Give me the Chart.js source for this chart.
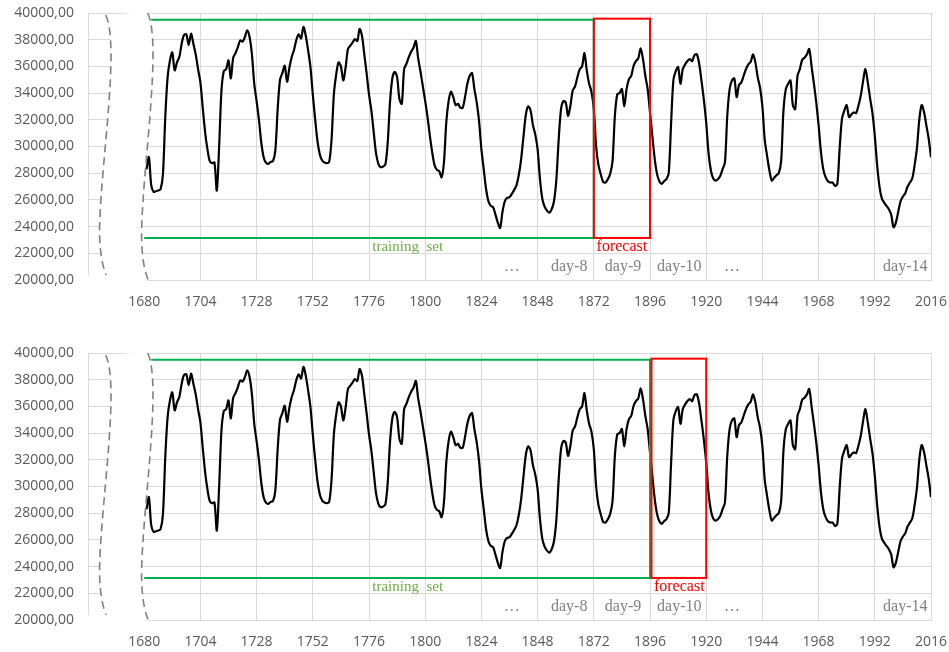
<!DOCTYPE html>
<html>
<head>
<meta charset="utf-8">
<script src="https://cdn.jsdelivr.net/npm/chart.js@4.4.1/dist/chart.umd.min.js"></script>
<style>
  html, body { margin: 0; padding: 0; background: #fff; overflow: hidden; }
  #wrap { position: relative; width: 949px; height: 652px; }
  canvas { position: absolute; left: 0; }
  #top { top: 0; }
  #bottom { top: 340px; }
</style>
</head>
<body>
<div id="wrap">
  <canvas id="top" width="949" height="312"></canvas>
  <canvas id="bottom" width="949" height="312"></canvas>
</div>
<script>
// hourly load, first point at hour 1681, one row per day
const firstHour = 1681;
const load = [
  28300, 29200, 27100, 26600, 26650, 26700, 26800, 27900, 32200, 35200, 36450, 37050, 35700, 36300, 36700, 37700, 38350, 38400, 37600, 38450, 37700, 36900, 35800, 34800,
  32900, 31100, 29800, 28900, 28750, 28800, 26700, 30000, 34200, 35650, 35800, 36450, 35100, 36650, 37000, 37450, 37950, 37850, 38200, 38700, 38200, 36900, 34700, 33400,
  32000, 30300, 29200, 28800, 28700, 28850, 28900, 29700, 32800, 35000, 35500, 36050, 34850, 35900, 36700, 37250, 38000, 38400, 38100, 38950, 38300, 37200, 35950, 33900,
  32050, 30400, 29400, 28950, 28800, 28750, 28850, 30500, 33900, 35400, 36300, 36000, 34950, 35900, 37300, 37550, 37800, 38050, 37900, 38800, 38300, 36900, 35450, 33900,
  32700, 31100, 29500, 28700, 28450, 28500, 28650, 30300, 33400, 35150, 35600, 35200, 33550, 33200, 35800, 36200, 36700, 37100, 37400, 37900, 36600, 35600, 34500, 33400,
  32200, 30800, 29550, 28600, 28250, 28150, 27700, 28800, 31800, 33400, 34100, 33700, 33100, 33200, 32900, 32900, 33700, 34700, 35300, 35500, 34300, 33300, 31900, 29800,
  28300, 26800, 25900, 25550, 25450, 24900, 24300, 23900, 25100, 25900, 26150, 26200, 26450, 26750, 27100, 27900, 29100, 30800, 32400, 33000, 32700, 31600, 30900, 29800,
  27600, 26100, 25500, 25200, 25050, 25300, 25900, 27500, 30500, 32800, 33400, 33300, 32300, 33050, 34200, 34500, 35200, 35800, 36000, 37000, 35700, 34700, 34100, 32800,
  30000, 28600, 27900, 27350, 27300, 27550, 27950, 28900, 32300, 33900, 34000, 34300, 33000, 34300, 35050, 35300, 36050, 36400, 36600, 37350, 36550, 35300, 34300, 32550,
  30800, 29100, 27950, 27400, 27200, 27400, 27550, 28000, 31700, 35000, 35650, 35950, 34700, 35800, 36150, 36400, 36550, 36400, 36850, 36900, 36200, 34900, 33500, 31800,
  29500, 28200, 27600, 27450, 27550, 27800, 28300, 28800, 32300, 34300, 34950, 35100, 33700, 34600, 34800, 35300, 35800, 36150, 36350, 36900, 36300, 35200, 34400, 33000,
  30500, 29300, 28200, 27450, 27650, 27850, 28000, 28900, 32700, 34300, 34700, 34950, 33100, 32800, 35300, 35800, 36500, 36650, 36900, 37300, 36000, 34700, 33300, 31600,
  29600, 28300, 27700, 27400, 27300, 27300, 27050, 27200, 29900, 32100, 32700, 33100, 32200, 32400, 32550, 32500, 33050, 33800, 34900, 35800, 34800, 33600, 32500, 30800,
  28600, 27000, 26100, 25800, 25550, 25300, 24900, 23950, 24300, 25100, 25900, 26250, 26500, 27000, 27300, 27600, 28600, 29900, 32000, 33100, 32600, 31600, 30600, 29200
];

const xTicks = [1656, 1680, 1704, 1728, 1752, 1776, 1800, 1824, 1848, 1872, 1896, 1920, 1944, 1968, 1992, 2016];
const yTicks = [20000, 22000, 24000, 26000, 28000, 30000, 32000, 34000, 36000, 38000, 40000];

// day captions under the boxes
const dayLabels = ["\u2026", "day-8", "day-9", "day-10", "\u2026", "day-14"];
const dayLabelX = [1837, 1861.5, 1884.5, 1908.5, 1931, 2005];

// one entry per panel
const trainEnd = [1872, 1896];
const forecastFrom = [1872, 1896];
const forecastTo = [1896, 1920];
const forecastLabelX = [1884, 1908.5];

const boxTop = 39500;
const boxBottom = 23150;
const captionY = 22500;
const dayY = 21000;

const GRID = "#d9d9d9";

// axis break: s-shaped dashed curve
function breakPath(ctx, x0, y0, y1) {
  const h = y1 - y0;
  ctx.moveTo(x0, y0);
  ctx.bezierCurveTo(x0 + 14, y0 + 30, x0 - 4, y0 + 0.55 * h, x0 - 6, y0 + 0.8 * h);
  ctx.quadraticCurveTo(x0 - 7, y0 + 0.93 * h, x0 + 0.5, y1);
}
function breakPathRev(ctx, x0, y0, y1) {
  const h = y1 - y0;
  ctx.lineTo(x0 + 0.5, y1);
  ctx.quadraticCurveTo(x0 - 7, y0 + 0.93 * h, x0 - 6, y0 + 0.8 * h);
  ctx.bezierCurveTo(x0 - 4, y0 + 0.55 * h, x0 + 14, y0 + 30, x0, y0);
}

function makeDecor(panel) {
  return {
    id: "decor" + panel,
    beforeDatasetsDraw(chart) {
      const { ctx, chartArea, scales } = chart;
      const xs = scales.x;
      const xl = xs.getPixelForValue(1680) - 38.5;
      const xr = xs.getPixelForValue(1680) + 3.5;
      // white gap between the two break curves
      ctx.save();
      ctx.fillStyle = "#fff";
      ctx.beginPath();
      breakPath(ctx, xl, chartArea.top + 2, chartArea.bottom - 5);
      breakPathRev(ctx, xr, chartArea.top - 1, chartArea.bottom + 1);
      ctx.closePath();
      ctx.fill();
      ctx.fillRect(chartArea.left - 3, chartArea.bottom - 5, xr - chartArea.left, 12);
      ctx.restore();
    },
    afterDatasetsDraw(chart) {
      const { ctx, chartArea, scales } = chart;
      const xs = scales.x, ys = scales.y;
      const xl = xs.getPixelForValue(1680) - 38.5;
      const xr = xs.getPixelForValue(1680) + 3.5;
      ctx.save();

      ctx.strokeStyle = "#808080";
      ctx.lineWidth = 1.6;
      ctx.setLineDash([8, 5]);
      ctx.beginPath();
      breakPath(ctx, xl, chartArea.top + 2, chartArea.bottom - 5);
      ctx.stroke();
      ctx.beginPath();
      breakPath(ctx, xr, chartArea.top, chartArea.bottom);
      ctx.stroke();
      ctx.setLineDash([]);

      const yT = ys.getPixelForValue(boxTop);
      const yB = ys.getPixelForValue(boxBottom);

      // training set box (open on the left)
      ctx.strokeStyle = "#00b050";
      ctx.lineWidth = 2;
      ctx.beginPath();
      ctx.moveTo(xs.getPixelForValue(1683), yT);
      ctx.lineTo(xs.getPixelForValue(trainEnd[panel]), yT);
      ctx.lineTo(xs.getPixelForValue(trainEnd[panel]), yB);
      ctx.lineTo(xs.getPixelForValue(1680), yB);
      ctx.stroke();

      // forecast box
      ctx.strokeStyle = "#ff0000";
      const fx0 = xs.getPixelForValue(forecastFrom[panel]) + (panel ? 1.5 : 0);
      const fx1 = xs.getPixelForValue(forecastTo[panel]);
      ctx.strokeRect(fx0, yT - 1, fx1 - fx0, yB - yT + 1);

      ctx.textAlign = "center";
      ctx.textBaseline = "middle";
      ctx.font = "15px 'Liberation Serif'";
      ctx.fillStyle = "#70ad47";
      ctx.fillText("training  set", xs.getPixelForValue(1792.5), ys.getPixelForValue(captionY));
      ctx.font = "16px 'Liberation Serif'";
      ctx.fillStyle = "#ff0000";
      ctx.fillText("forecast", xs.getPixelForValue(forecastLabelX[panel]), ys.getPixelForValue(captionY));

      ctx.fillStyle = "#808080";
      dayLabels.forEach((t, i) => {
        ctx.fillText(t, xs.getPixelForValue(dayLabelX[i]), ys.getPixelForValue(dayY));
      });
      ctx.restore();
    }
  };
}

function makeChart(id, panel) {
  const ctx = document.getElementById(id).getContext("2d");
  return new Chart(ctx, {
    type: "line",
    data: {
      datasets: [
        {
          data: load.map((v, i) => ({ x: firstHour + i, y: v })),
          borderColor: "#000",
          borderWidth: 2.2,
          pointRadius: 0,
          tension: 0.3,
          fill: false,
        },
      ],
    },
    options: {
      responsive: false,
      animation: false,
      devicePixelRatio: 1,
      layout: { padding: { top: 13, right: 18, left: 0, bottom: 0 } },
      plugins: { legend: { display: false }, tooltip: { enabled: false } },
      scales: {
        x: {
          type: "linear",
          min: 1656,
          max: 2016,
          afterBuildTicks: (s) => { s.ticks = xTicks.map((v) => ({ value: v })); },
          afterFit: (s) => {
            s.height = 32;
            s.paddingLeft = 0;
            s.paddingRight = 0;
          },
          ticks: {
            autoSkip: false,
            maxRotation: 0,
            padding: 14,
            color: "#595959",
            font: { family: "'Open Sans'", size: 14 },
            callback: (v) => (v === 1656 ? "" : String(v)),
          },
          grid: {
            drawTicks: false,
            color: (c) => (c.tick && c.tick.value === 1680 ? "rgba(0,0,0,0)" : GRID),
          },
          border: { color: GRID },
        },
        y: {
          min: 20000,
          max: 40000,
          afterBuildTicks: (s) => { s.ticks = yTicks.map((v) => ({ value: v })); },
          afterFit: (s) => {
            s.width = 88;
            s.paddingTop = 0;
            s.paddingBottom = 0;
          },
          ticks: {
            padding: 14,
            color: "#595959",
            font: { family: "'Open Sans'", size: 14 },
            callback: (v) => v + ",00",
          },
          grid: { drawTicks: false, color: GRID },
          border: { color: GRID },
        },
      },
    },
    plugins: [makeDecor(panel)],
  });
}

makeChart("top", 0);
makeChart("bottom", 1);
</script>
</body>
</html>
